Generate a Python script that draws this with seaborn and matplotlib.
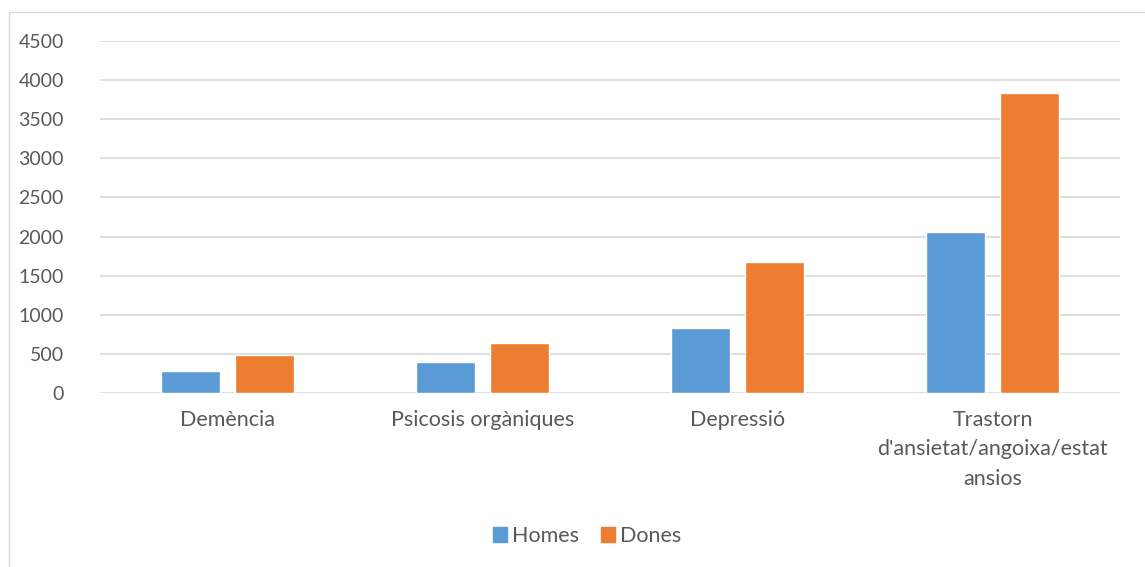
import pandas as pd
import matplotlib.pyplot as plt
import matplotlib.patches as mpatches
import seaborn as sns

categories = ['Demència', 'Psicosis orgàniques', 'Depressió',
              "Trastorn\nd'ansietat/angoixa/estat\nansios"]
homes = [277, 392, 833, 2054]
dones = [485, 634, 1675, 3830]
yticks = [0, 500, 1000, 1500, 2000, 2500, 3000, 3500, 4000, 4500]

df = pd.DataFrame({'Categoria': categories * 2,
                   'Valor': homes + dones,
                   'Sexe': ['Homes'] * 4 + ['Dones'] * 4})

sns.set_style('white')
plt.rcParams['font.family'] = ['Lato', 'DejaVu Sans']
text_color = '#595959'
blue, orange = '#5B9BD5', '#ED7D31'

fig = plt.figure(figsize=(11.45, 5.67), dpi=100)
ax = fig.add_axes([100 / 1145, 1 - 393 / 567, 1020 / 1145, 352 / 567])

sns.barplot(data=df, x='Categoria', y='Valor', hue='Sexe',
            palette={'Homes': blue, 'Dones': orange}, saturation=1,
            width=0.58, gap=0.215, ax=ax, zorder=3)

ax.set_ylim(0, 4500)
ax.set_yticks(yticks)
ax.set_xlim(-0.5, 3.5)
ax.grid(axis='y', color='#d9d9d9', linewidth=1.2, zorder=0)
ax.set_axisbelow(True)
for s in ax.spines.values():
    s.set_visible(False)
ax.tick_params(axis='both', length=0, labelcolor=text_color)
ax.tick_params(axis='y', pad=26, labelsize=14)
ax.tick_params(axis='x', pad=12, labelsize=15.5)
ax.set_xlabel('')
ax.set_ylabel('')
for lbl in ax.get_xticklabels():
    lbl.set_linespacing(1.6)

ax.get_legend().remove()
handles = [mpatches.Patch(color=blue, label='Homes'),
           mpatches.Patch(color=orange, label='Dones')]
fig.legend(handles=handles, loc='center', bbox_to_anchor=(587 / 1145, 1 - 536 / 567),
           ncol=2, frameon=False, fontsize=15.5, labelcolor=text_color,
           handlelength=0.65, handleheight=0.65, handletextpad=0.25, columnspacing=1.0)

frame = mpatches.Rectangle((9 / 1145, -0.01), 1.1, 1 - 12 / 567 + 0.01,
                           transform=fig.transFigure, fill=False,
                           edgecolor='#d9d9d9', linewidth=1)
fig.patches.append(frame)

fig.savefig('out.png', dpi=100)
